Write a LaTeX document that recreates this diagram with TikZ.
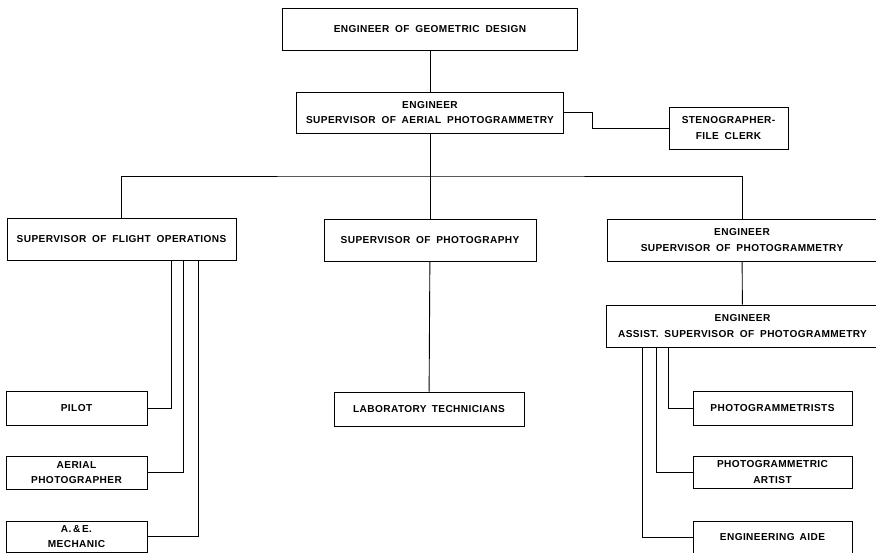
\documentclass[tikz,border=0pt]{standalone}
\usepackage{fontspec}
\newfontfamily\lettering[LetterSpace=4.0,WordSpace=1.8]{Liberation Sans}
\usetikzlibrary{positioning}

\tikzset{
  orgbox/.style={draw, line width=0.9pt, align=center, inner sep=0pt,
    font=\lettering\bfseries\fontsize{10.1}{15.5}\selectfont},
  link/.style={line width=0.9pt}
}

\begin{document}
\begin{tikzpicture}[x=1pt,y=-1pt]
  \useasboundingbox (0,0) rectangle (876,553);
  \clip (0,0) rectangle (876,553);

  % Leitung oben
  \node[orgbox, minimum width=295pt, minimum height=42pt] (geo) at (430,29) {ENGINEER OF GEOMETRIC DESIGN};
  \node[orgbox, minimum width=267pt, minimum height=41pt] (aerial) at (430,112.5) {ENGINEER\\SUPERVISOR OF AERIAL PHOTOGRAMMETRY};
  \node[orgbox, minimum width=119pt, minimum height=42pt] (steno) at (728.5,128) {STENOGRAPHER-\\FILE CLERK};

  % mittlere Ebene
  \node[orgbox, minimum width=229pt, minimum height=42pt] (flight) at (121.5,239) {SUPERVISOR OF FLIGHT OPERATIONS};
  \node[orgbox, minimum width=212pt, minimum height=42pt] (photo) at (430,240) {SUPERVISOR OF PHOTOGRAPHY};
  \node[orgbox, minimum width=270pt, minimum height=42pt] (photog) at (742,240) {ENGINEER\\SUPERVISOR OF PHOTOGRAMMETRY};
  \node[orgbox, minimum width=273pt, minimum height=42pt] (assist) at (742.5,326) {ENGINEER\\ASSIST.\ SUPERVISOR OF PHOTOGRAMMETRY};

  % untere Ebene
  \node[orgbox, minimum width=190pt, minimum height=34pt] (lab) at (429,409) {LABORATORY\enspace TECHNICIANS};
  \node[orgbox, minimum width=141pt, minimum height=34pt] (pilot) at (76.5,408) {PILOT};
  \node[orgbox, minimum width=141pt, minimum height=33pt] (aerphot) at (76.5,472.5) {AERIAL\\PHOTOGRAPHER};
  \node[orgbox, minimum width=141pt, minimum height=31pt] (mech) at (76.5,536.5) {A.\,\&\,E.\\MECHANIC};
  \node[orgbox, minimum width=159pt, minimum height=34pt] (pgmists) at (772.5,408) {PHOTOGRAMMETRISTS};
  \node[orgbox, minimum width=159pt, minimum height=32pt] (artist) at (772.5,472) {PHOTOGRAMMETRIC\\ARTIST};
  \node[orgbox, minimum width=159pt, minimum height=32pt] (aide) at (772.5,537) {ENGINEERING\enspace AIDE};

  % Verbindungen
  \coordinate (bus) at (430,176);
  \draw[link] (geo) -- (aerial);
  \draw[link] (aerial.east) -- ++(28,0) |- (steno.west);
  \draw[link] (aerial) -- (photo);
  \draw[link] (flight.north) |- (bus) -| (photog.north);
  \draw[link] (photo) -- (lab);
  \draw[link] (photog) -- (assist);

  \draw[link] ([xshift=165pt]flight.south west) |- (pilot.east);
  \draw[link] ([xshift=177pt]flight.south west) |- (aerphot.east);
  \draw[link] ([xshift=192pt]flight.south west) |- (mech.east);

  \draw[link] ([xshift=63pt]assist.south west) |- (pgmists.west);
  \draw[link] ([xshift=51pt]assist.south west) |- (artist.west);
  \draw[link] ([xshift=37pt]assist.south west) |- (aide.west);
\end{tikzpicture}
\end{document}
